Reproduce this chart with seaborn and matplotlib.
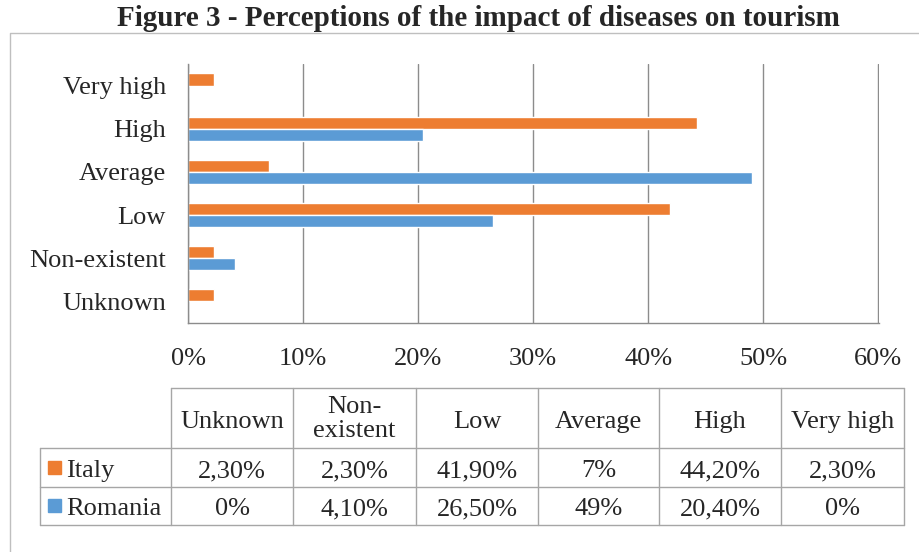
import pandas as pd
import matplotlib.pyplot as plt
import seaborn as sns
from matplotlib.patches import Rectangle

categories = ["Unknown", "Non-existent", "Low", "Average", "High", "Very high"]
table_headers = ["Unknown", "Non-\nexistent", "Low", "Average", "High", "Very high"]
italy = [2.3, 2.3, 41.9, 7.0, 44.2, 2.3]
romania = [0.0, 4.1, 26.5, 49.0, 20.4, 0.0]
series = ["Italy", "Romania"]
x_ticks = [0, 10, 20, 30, 40, 50, 60]

ORANGE = "#ED7D31"
BLUE = "#5B9BD5"
LINE = "#A6A6A6"
FS = 19

sns.set_theme(style="white")
plt.rcParams['font.family'] = ['Liberation Serif', 'DejaVu Serif']

df = pd.DataFrame({
    "category": categories * 2,
    "value": italy + romania,
    "country": ["Italy"] * len(categories) + ["Romania"] * len(categories),
})

fig = plt.figure(figsize=(9.19, 5.52), dpi=100)
W, H = 919, 552

# overlay in pixel coords for border, title, table
ov = fig.add_axes([0, 0, 1, 1], zorder=0)
ov.set_xlim(0, W)
ov.set_ylim(H, 0)
ov.axis("off")
ov.plot([10, 10, W], [H, 33, 33], color="#BFBFBF", lw=1)
ov.text(478, 26, "Figure 3 - Perceptions of the impact of diseases on tourism",
        ha="center", va="baseline", fontsize=21, fontweight="bold")

# bar chart
ax = fig.add_axes([188 / W, 1 - 323 / H, 691 / W, 259 / H], zorder=1)
ax.patch.set_alpha(0)
order = categories[::-1]
sns.barplot(data=df, x="value", y="category", hue="country", order=order,
            hue_order=series, palette=[ORANGE, BLUE], orient="h",
            width=0.56, ax=ax, legend=False, saturation=1)
ax.set_xlim(0, 60.05)
ax.set_xticks(x_ticks)
ax.set_xticklabels([f"{t}%" for t in x_ticks], fontsize=FS)
ax.tick_params(axis="x", length=0, pad=18)
ax.tick_params(axis="y", length=0, pad=16, labelsize=FS)
ax.set_xlabel("")
ax.set_ylabel("")
ax.grid(axis="x", color="#8C8C8C", lw=1)
ax.set_axisbelow(True)
for s in ["top", "right"]:
    ax.spines[s].set_visible(False)
for s in ["left", "bottom"]:
    ax.spines[s].set_color("#8C8C8C")
    ax.spines[s].set_linewidth(1)

# data table
col_edges = [171, 293, 416, 538, 659, 781, 904]
row_edges = [388, 448, 487, 525]
label_left = 40

def lines(xs, ys):
    ov.plot(xs, ys, color=LINE, lw=1)

lines([col_edges[0], col_edges[-1]], [row_edges[0]] * 2)
for y in row_edges[1:]:
    lines([label_left, col_edges[-1]], [y, y])
for x in col_edges:
    lines([x, x], [row_edges[0], row_edges[-1]])
lines([label_left, label_left], [row_edges[1], row_edges[-1]])

def fmt(v):
    if float(v).is_integer():
        return f"{int(v)}%"
    return f"{v:.2f}".replace(".", ",") + "%"

for i, h in enumerate(table_headers):
    cx = (col_edges[i] + col_edges[i + 1]) / 2
    if "\n" in h:
        ov.text(cx, (row_edges[0] + row_edges[1]) / 2 + 1, h, ha="center",
                va="center", fontsize=FS, linespacing=1.1)
    else:
        ov.text(cx, 428, h, ha="center", va="baseline", fontsize=FS)

baselines = [477, 515]
for r, (name, vals, col) in enumerate(zip(series, [italy, romania], [ORANGE, BLUE])):
    cy = (row_edges[r + 1] + row_edges[r + 2]) / 2
    ov.add_patch(Rectangle((48, cy - 7), 13, 13, color=col))
    ov.text(66, baselines[r], name, ha="left", va="baseline", fontsize=FS)
    for i, v in enumerate(vals):
        cx = (col_edges[i] + col_edges[i + 1]) / 2
        ov.text(cx, baselines[r], fmt(v), ha="center", va="baseline", fontsize=FS)

fig.savefig("out.png", dpi=100)
